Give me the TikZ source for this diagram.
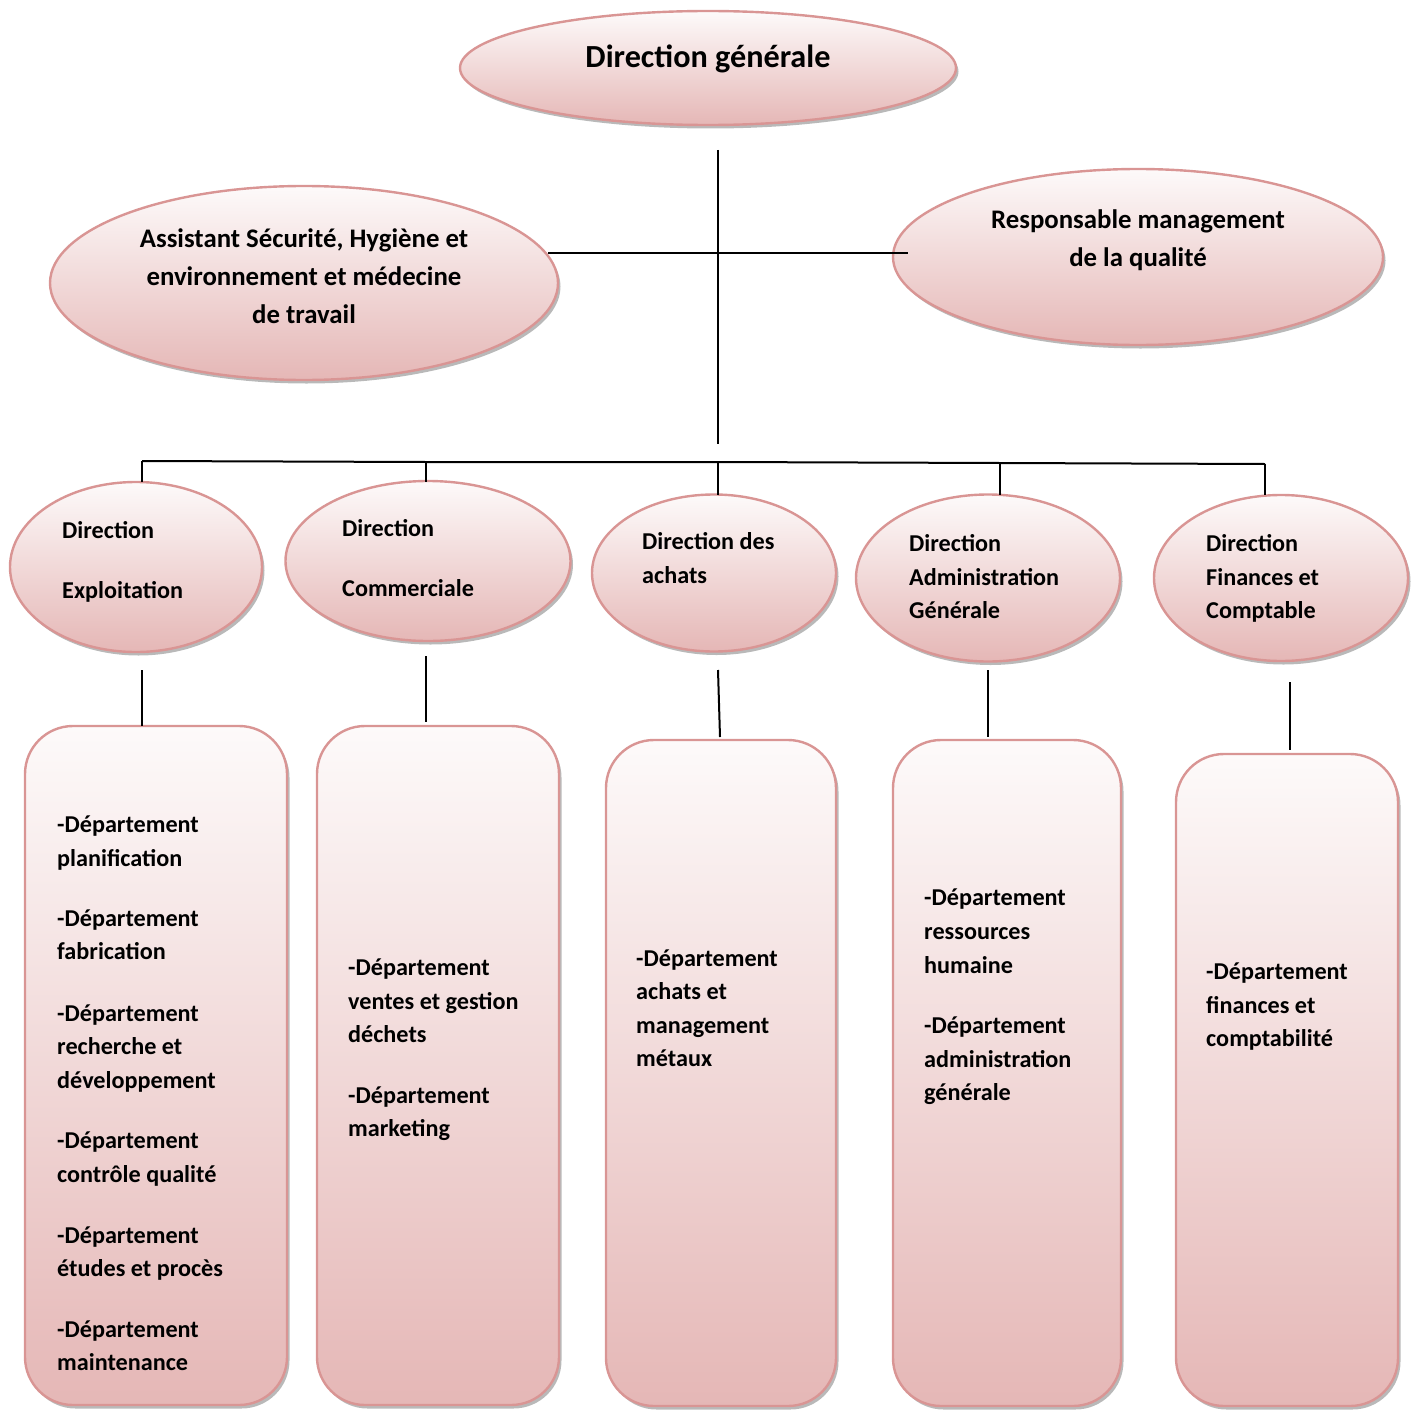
\documentclass[tikz,border=0pt]{standalone}
\usepackage{fontspec}
\setmainfont{Carlito}
\usetikzlibrary{shadows,shapes.geometric}
\definecolor{bordure}{HTML}{D99594}
\definecolor{haut}{HTML}{FDFAFA}
\definecolor{bas}{HTML}{E5B7B6}
\tikzset{
  forme/.style={draw=bordure, line width=2.4pt, top color=haut, bottom color=bas,
    drop shadow={shadow xshift=2.5pt, shadow yshift=-3.5pt, fill=black!50, opacity=.55}},
  ell/.style={forme, ellipse, inner sep=0pt},
  boite/.style={forme, rectangle, rounded corners=48pt, inner sep=0pt},
  txt/.style={font=\fontsize{24.2}{28}\selectfont\bfseries, anchor=mid west, inner sep=0pt, yshift=-6.5pt},
  txtc/.style={txt, anchor=mid, font=\fontsize{26.8}{30}\selectfont\bfseries},
  lien/.style={line width=2pt, black},
}
\newcommand\colonne[3]{\foreach \t/\y [count=\i] in {#3} \node[txt] (#1-\i) at (#2,\y) {\t};}
\newcommand\colonnec[3]{\foreach \t/\y [count=\i] in {#3} \node[txtc] (#1-\i) at (#2,\y) {\t};}
\begin{document}
\begin{tikzpicture}[x=1pt, y=-1pt]
\useasboundingbox (0,0) rectangle (1416,1410);
% top-level ellipses
\node[ell, minimum width=496pt, minimum height=114pt] (dg) at (708,68) {};
\node[ell, minimum width=508pt, minimum height=194pt] (ash) at (304,283) {};
\node[ell, minimum width=490pt, minimum height=176pt] (rmq) at (1138,257) {};
% directions
\node[ell, minimum width=252pt, minimum height=170pt] (e1) at (136,567) {};
\node[ell, minimum width=285pt, minimum height=160pt] (e2) at (428,561) {};
\node[ell, minimum width=244pt, minimum height=157pt] (e3) at (714,573) {};
\node[ell, minimum width=264pt, minimum height=167pt] (e4) at (988,578) {};
\node[ell, minimum width=254pt, minimum height=166pt] (e5) at (1281,578) {};
% boxes
\node[boite, minimum width=262pt, minimum height=679pt] (b1) at (156,1065.5) {};
\node[boite, minimum width=242pt, minimum height=679pt] (b2) at (438,1065.5) {};
\node[boite, minimum width=230pt, minimum height=666pt] (b3) at (721,1073) {};
\node[boite, minimum width=228pt, minimum height=666pt] (b4) at (1007,1073) {};
\node[boite, minimum width=222pt, minimum height=652pt] (b5) at (1287,1080) {};
% coordinates for connectors
\coordinate (c0) at (718,150);
\coordinate (c1) at (718,444);
\coordinate (h1) at (548,253);
\coordinate (h2) at (908,253);
\coordinate (bus1) at (142,461);
\coordinate (bus2) at (426,462);
\coordinate (bus3) at (718,462);
\coordinate (bus4) at (1000,463);
\coordinate (bus5) at (1265,464);
\coordinate (d1) at (142,482);
\coordinate (d2) at (426,482);
\coordinate (d3) at (718,495);
\coordinate (d4) at (1000,495);
\coordinate (d5) at (1265,495);
\coordinate (u1) at (142,670);  \coordinate (v1) at (142,726);
\coordinate (u2) at (426,656);  \coordinate (v2) at (426,722);
\coordinate (u3) at (718,670);  \coordinate (v3) at (720,737);
\coordinate (u4) at (988,670);  \coordinate (v4) at (988,737);
\coordinate (u5) at (1290,682); \coordinate (v5) at (1290,750);
% connectors
\draw[lien] (c0) -- (c1);
\draw[lien] (h1) -- (h2);
\draw[lien] (bus1) -- (bus2) -- (bus3) -- (bus4) -- (bus5);
\foreach \k in {1,...,5} {
  \draw[lien] (bus\k) -- (d\k);
  \draw[lien] (u\k) -- (v\k);
}
% texts
\node[txt, anchor=center, font=\fontsize{32.2}{36}\selectfont\bfseries] (dg-t) at (708,52.5) {Direction générale};
\colonnec{ash-t}{304}{{Assistant Sécurité, Hygiène et}/239, {environnement et médecine}/277, {de travail}/315}
\colonnec{rmq-t}{1138}{{Responsable management}/220, {de la qualité}/258}
\colonne{e1-t}{62}{Direction/530, Exploitation/590}
\colonne{e2-t}{342}{Direction/528, Commerciale/588}
\colonne{e3-t}{642}{{Direction des}/541, achats/575}
\colonne{e4-t}{909}{Direction/543, Administration/577, Générale/610}
\colonne{e5-t}{1206}{Direction/543, {Finances et}/577, Comptable/610}
\colonne{b1-t}{57}{-Département/824, planification/858, -Département/918, fabrication/951, -Département/1013, {recherche et}/1046, développement/1080, -Département/1140, {contrôle qualité}/1174, -Département/1235, {études et procès}/1268, -Département/1329, maintenance/1362}
\colonne{b2-t}{348}{-Département/967, {ventes et gestion}/1001, déchets/1034, -Département/1095, marketing/1128}
\colonne{b3-t}{636}{-Département/958, {achats et}/991, management/1025, métaux/1058}
\colonne{b4-t}{924}{-Département/897, ressources/931, humaine/965, -Département/1025, administration/1059, générale/1092}
\colonne{b5-t}{1206}{-Département/971, {finances et}/1005, comptabilité/1038}
\end{tikzpicture}
\end{document}
